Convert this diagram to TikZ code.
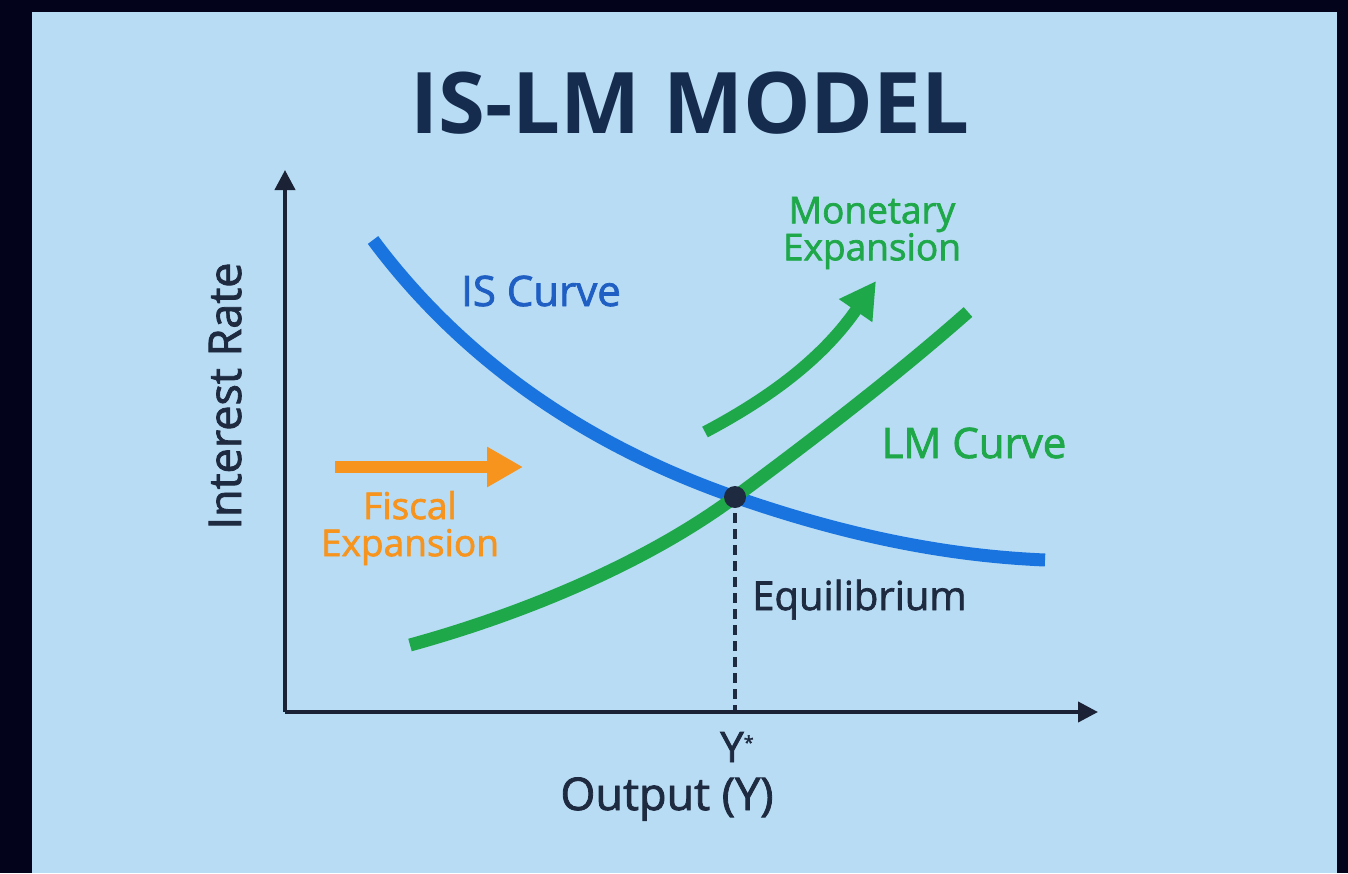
\documentclass[tikz,border=0pt]{standalone}
\usepackage{fontspec}
\setmainfont{Open Sans}
\newfontfamily\medfont[FakeBold=1.8]{Open Sans}
\usetikzlibrary{arrows.meta}
\definecolor{frame}{HTML}{03031C}
\definecolor{panel}{HTML}{B8DCF4}
\definecolor{titlec}{HTML}{152C4E}
\definecolor{isblue}{HTML}{1A74E0}
\definecolor{islabel}{HTML}{1F5FC4}
\definecolor{lmgreen}{HTML}{1FA84A}
\definecolor{fiscal}{HTML}{F7941D}
\definecolor{axisc}{HTML}{1B2236}
\definecolor{textc}{HTML}{1E2A40}
\tikzset{
  axisline/.style={line width=4pt, draw=axisc, -{Triangle[length=20pt,width=20pt]}},
  curve/.style={line width=13pt, line cap=butt},
  bigarrow/.style={line width=12pt, -{Triangle[length=36pt,width=38pt]}},
  lbl/.style={inner sep=0pt, text=textc},
  clbl/.style={inner sep=0pt, align=center},
}
\begin{document}
\begin{tikzpicture}[x=1pt,y=-1pt]
\useasboundingbox (0,0) rectangle (1348,873);
\fill[frame] (0,0) rectangle (1348,873);
\fill[panel] (32,12) rectangle (1337,873);

% title
\node[inner sep=0pt, anchor=base, font=\fontsize{85}{85}\selectfont\bfseries, text=titlec] (title) at (690,133) {IS-LM MODEL};

% axes
\coordinate (origin) at (285,712);
\coordinate (ytip) at (285,170);
\coordinate (xtip) at (1098,712);
\draw[axisline] (origin) -- (ytip);
\draw[axisline] (origin) -- (xtip);

% equilibrium
\coordinate (eq) at (735,497);
\coordinate (eqfoot) at (735,710);
\coordinate (isA) at (373,240);
\coordinate (isB) at (1045,560);
\coordinate (lmA) at (410,645);
\coordinate (lmB) at (968,312);

% IS curve
\draw[curve, isblue] (isA) .. controls (470,370) and (600,450) .. (eq)
  .. controls (850,537) and (950,556) .. (isB);
% LM curve
\draw[curve, lmgreen] (lmA) .. controls (530,612) and (650,560) .. (eq)
  .. controls (820,434) and (900,372) .. (lmB);

% dashed line
\draw[line width=3.5pt, draw=textc, dash pattern=on 10pt off 6pt] (eq) -- (eqfoot);
\fill[textc] (eq) circle[radius=11pt];

% monetary arrow
\coordinate (mstart) at (705,432);
\coordinate (mtip) at (876,281);
\draw[bigarrow, lmgreen] (mstart) .. controls (775,395) and (825,355) .. (mtip);

% fiscal arrow
\coordinate (fstart) at (335,467);
\coordinate (ftip) at (523,467);
\draw[bigarrow, fiscal] (fstart) -- (ftip);

% labels
\node[lbl, rotate=90, anchor=base, font=\medfont\fontsize{45}{45}\selectfont] (ylab) at (241,396) {Interest Rate};
\node[lbl, anchor=base, font=\medfont\fontsize{45}{45}\selectfont] (xlab) at (667,810) {Output (Y)};
\node[lbl, anchor=base, font=\medfont\fontsize{42}{42}\selectfont] (ystar) at (737,762) {Y\raisebox{13pt}{\fontsize{18}{18}\selectfont *}};
\node[lbl, anchor=base west, font=\medfont\fontsize{40}{40}\selectfont] (eqlab) at (752,610) {Equilibrium};
\node[clbl, text=islabel, anchor=base, font=\medfont\fontsize{42}{42}\selectfont] (islab) at (541,306) {IS Curve};
\node[clbl, text=lmgreen, anchor=base, font=\medfont\fontsize{42}{42}\selectfont] (lmlab) at (974,458) {LM Curve};
\node[clbl, text=lmgreen, font=\medfont\fontsize{37}{37}\selectfont] (monlab) at (872,233) {Monetary\\Expansion};
\node[clbl, text=fiscal, font=\medfont\fontsize{37}{37}\selectfont] (fislab) at (410,528) {Fiscal\\Expansion};
\end{tikzpicture}
\end{document}
